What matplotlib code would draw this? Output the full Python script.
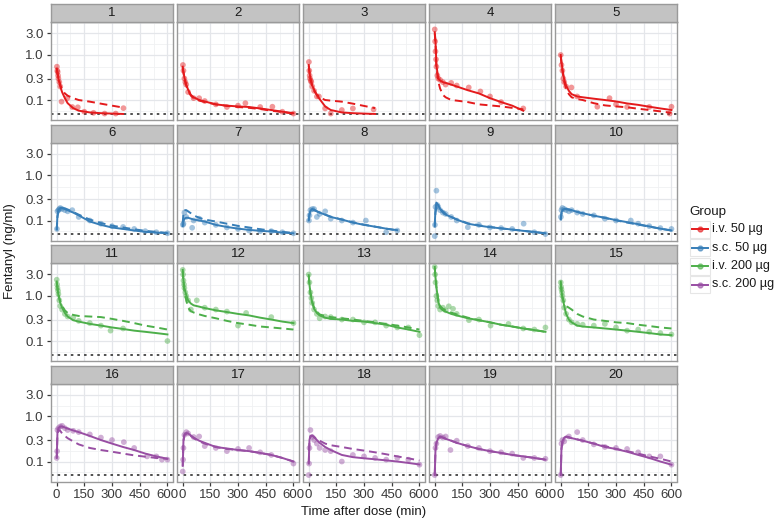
import matplotlib
matplotlib.use("Agg")
import matplotlib.pyplot as plt
from matplotlib.lines import Line2D
from matplotlib.patches import Rectangle

W, H = 777, 524
plt.rcParams["font.family"] = ["Liberation Sans", "DejaVu Sans"]

# ---------------- data ----------------
LINE_T = [1, 5, 10, 20, 30, 45, 60, 90, 120, 180, 240, 300, 360, 420, 480, 540, 600]
GROUPS = ["i.v. 50 µg", "s.c. 50 µg", "i.v. 200 µg", "s.c. 200 µg"]
GROUP_COLORS = ["#E41A1C", "#377EB8", "#4DAF4A", "#984EA3"]
LLOQ = 0.05
X_TICKS = [0, 150, 300, 450, 600]
Y_TICKS = [0.1, 0.3, 1.0, 3.0]
Y_TICK_LABELS = ["0.1", "0.3", "1.0", "3.0"]
SUBJECT_IDS = list(range(1, 21))

# subject 1  (i.v. 50)
s1_t = [2, 4, 6, 8, 10, 15, 20, 27, 58, 85, 115, 150, 200, 260, 320, 362]
s1_c = [0.55, 0.45, 0.42, 0.35, 0.3, 0.25, 0.2, 0.092, 0.11, 0.07, 0.069, 0.055, 0.052, 0.05, 0.05, 0.066]
s1_ipred = [0.5, 0.38, 0.3, 0.2, 0.15, 0.11, 0.085, 0.066, 0.058, 0.053, 0.051, 0.05, 0.049]
s1_pred = [0.5, 0.4, 0.32, 0.22, 0.17, 0.14, 0.125, 0.11, 0.1, 0.092, 0.083, 0.075, 0.068]
# subject 2
s2_t = [2, 5, 10, 15, 20, 30, 60, 90, 120, 180, 240, 300, 340, 420, 486, 540, 600]
s2_c = [0.6, 0.45, 0.3, 0.25, 0.22, 0.15, 0.11, 0.11, 0.095, 0.08, 0.07, 0.075, 0.085, 0.07, 0.071, 0.055, 0.05]
s2_ipred = [0.55, 0.42, 0.32, 0.22, 0.17, 0.13, 0.115, 0.1, 0.093, 0.08, 0.075, 0.072, 0.07, 0.065, 0.06, 0.055, 0.051]
s2_pred = [0.52, 0.4, 0.3, 0.21, 0.16, 0.125, 0.11, 0.097, 0.09, 0.08, 0.074, 0.07, 0.067, 0.063, 0.058, 0.054, 0.05]
# subject 3
s3_t = [2, 4, 6, 8, 12, 15, 20, 30, 45, 56, 90, 120, 180, 240, 352]
s3_c = [0.7, 0.45, 0.35, 0.3, 0.27, 0.25, 0.2, 0.16, 0.12, 0.12, 0.065, 0.05, 0.06, 0.065, 0.062]
s3_ipred = [0.6, 0.42, 0.3, 0.21, 0.17, 0.13, 0.105, 0.072, 0.06, 0.053, 0.051, 0.05, 0.049]
s3_pred = [0.58, 0.42, 0.3, 0.2, 0.16, 0.13, 0.115, 0.1, 0.097, 0.092, 0.083, 0.074, 0.066]
# subject 4
s4_t = [1, 3, 5, 8, 10, 15, 20, 30, 45, 60, 90, 120, 185, 248, 300, 360, 480]
s4_c = [3.7, 2.0, 1.2, 0.8, 0.55, 0.35, 0.3, 0.28, 0.25, 0.22, 0.24, 0.21, 0.19, 0.155, 0.12, 0.09, 0.065]
s4_ipred = [3.2, 2.1, 0.6, 0.3, 0.27, 0.25, 0.24, 0.22, 0.2, 0.165, 0.14, 0.11, 0.09, 0.075, 0.058]
s4_pred = [3.0, 1.9, 0.55, 0.26, 0.18, 0.13, 0.115, 0.1, 0.097, 0.09, 0.08, 0.076, 0.072, 0.067, 0.062]
# subject 5
s5_t = [1, 5, 10, 15, 20, 30, 59, 90, 199, 265, 300, 360, 480, 600, 590]
s5_c = [1.0, 0.6, 0.45, 0.3, 0.25, 0.2, 0.19, 0.12, 0.071, 0.11, 0.08, 0.07, 0.07, 0.071, 0.05]
s5_ipred = [1.0, 0.7, 0.5, 0.28, 0.21, 0.16, 0.135, 0.12, 0.115, 0.107, 0.1, 0.093, 0.084, 0.078, 0.071, 0.065, 0.06]
s5_pred = [0.95, 0.65, 0.45, 0.25, 0.18, 0.135, 0.115, 0.105, 0.1, 0.085, 0.076, 0.072, 0.069, 0.064, 0.06, 0.056, 0.052]
# subject 6  (s.c. 50)
s6_t = [2, 5, 10, 15, 20, 30, 45, 60, 85, 120, 180, 240, 300, 360, 420, 480, 540, 600]
s6_c = [0.065, 0.16, 0.17, 0.18, 0.19, 0.18, 0.17, 0.16, 0.17, 0.12, 0.1, 0.085, 0.075, 0.072, 0.065, 0.058, 0.055, 0.052]
s6_ipred = [0.065, 0.13, 0.17, 0.19, 0.19, 0.18, 0.17, 0.15, 0.13, 0.095, 0.08, 0.07, 0.065, 0.06, 0.056, 0.054, 0.052]
s6_pred = [0.06, 0.12, 0.16, 0.185, 0.19, 0.185, 0.175, 0.155, 0.135, 0.105, 0.088, 0.077, 0.07, 0.064, 0.059, 0.056, 0.053]
# subject 7
s7_t = [2, 5, 10, 20, 52, 60, 90, 120, 180, 240, 300, 360, 420, 480, 540, 600]
s7_c = [0.08, 0.085, 0.15, 0.12, 0.069, 0.1, 0.11, 0.09, 0.08, 0.07, 0.065, 0.06, 0.058, 0.058, 0.055, 0.052]
s7_ipred = [0.075, 0.095, 0.11, 0.115, 0.115, 0.11, 0.105, 0.1, 0.095, 0.08, 0.072, 0.066, 0.062, 0.059, 0.057, 0.054, 0.052]
s7_pred = [0.09, 0.15, 0.17, 0.17, 0.16, 0.145, 0.13, 0.115, 0.105, 0.095, 0.085, 0.076, 0.07, 0.064, 0.06, 0.056, 0.053]
# subject 8
s8_t = [2, 5, 10, 20, 30, 45, 60, 90, 120, 180, 240, 310, 420, 480]
s8_c = [0.1, 0.13, 0.17, 0.18, 0.18, 0.12, 0.14, 0.16, 0.11, 0.1, 0.09, 0.1, 0.055, 0.06]
s8_ipred = [0.1, 0.14, 0.165, 0.18, 0.175, 0.16, 0.15, 0.135, 0.12, 0.105, 0.09, 0.08, 0.073, 0.066, 0.061]
s8_pred = [0.1, 0.135, 0.16, 0.175, 0.17, 0.16, 0.15, 0.135, 0.122, 0.105, 0.091, 0.081, 0.073, 0.066, 0.06]
# subject 9
s9_t = [1, 2, 5, 10, 15, 20, 30, 45, 60, 90, 120, 180, 240, 300, 360, 420, 482, 540, 600]
s9_c = [0.045, 0.08, 0.2, 0.46, 0.22, 0.2, 0.17, 0.15, 0.14, 0.12, 0.1, 0.071, 0.08, 0.07, 0.068, 0.065, 0.085, 0.055, 0.05]
s9_ipred = [0.08, 0.18, 0.25, 0.22, 0.18, 0.15, 0.135, 0.12, 0.105, 0.085, 0.077, 0.071, 0.067, 0.063, 0.059, 0.056, 0.052]
s9_pred = [0.07, 0.15, 0.19, 0.2, 0.18, 0.16, 0.14, 0.12, 0.106, 0.087, 0.078, 0.072, 0.067, 0.063, 0.059, 0.055, 0.052]
# subject 10
s10_t = [2, 5, 10, 20, 30, 45, 60, 90, 120, 180, 240, 300, 380, 420, 480, 540, 600]
s10_c = [0.12, 0.17, 0.19, 0.18, 0.17, 0.16, 0.17, 0.15, 0.14, 0.13, 0.11, 0.1, 0.1, 0.085, 0.075, 0.068, 0.065]
s10_ipred = [0.11, 0.15, 0.17, 0.18, 0.18, 0.175, 0.17, 0.155, 0.145, 0.128, 0.115, 0.102, 0.092, 0.083, 0.074, 0.066, 0.06]
s10_pred = [0.1, 0.14, 0.165, 0.18, 0.18, 0.175, 0.168, 0.155, 0.145, 0.128, 0.114, 0.101, 0.09, 0.081, 0.073, 0.066, 0.06]
# subject 11  (i.v. 200)
s11_t = [1, 3, 5, 8, 10, 15, 20, 30, 45, 60, 90, 120, 180, 240, 292, 360, 600]
s11_c = [2.3, 1.8, 1.5, 1.3, 1.1, 0.8, 0.6, 0.5, 0.4, 0.35, 0.33, 0.28, 0.25, 0.22, 0.17, 0.19, 0.1]
s11_ipred = [2.1, 1.5, 1.05, 0.7, 0.55, 0.42, 0.35, 0.29, 0.27, 0.24, 0.22, 0.2, 0.185, 0.17, 0.16, 0.15, 0.14]
s11_pred = [2.0, 1.5, 1.1, 0.75, 0.6, 0.48, 0.42, 0.38, 0.36, 0.35, 0.34, 0.31, 0.28, 0.25, 0.22, 0.2, 0.18]
# subject 12
s12_t = [1, 3, 5, 8, 10, 15, 20, 30, 45, 77, 120, 180, 240, 300, 344, 480, 600]
s12_c = [3.8, 3.0, 2.2, 1.8, 1.5, 1.2, 1.0, 0.8, 0.5, 0.8, 0.55, 0.5, 0.45, 0.22, 0.42, 0.34, 0.25]
s12_ipred = [3.8, 2.2, 1.5, 1.05, 0.8, 0.68, 0.62, 0.58, 0.54, 0.48, 0.44, 0.4, 0.37, 0.33, 0.3, 0.27, 0.25]
s12_pred = [3.6, 2.0, 1.3, 0.8, 0.55, 0.46, 0.43, 0.39, 0.36, 0.32, 0.28, 0.25, 0.23, 0.21, 0.2, 0.19, 0.18]
# subject 13
s13_t = [1, 5, 10, 15, 20, 30, 45, 60, 90, 120, 180, 240, 300, 360, 420, 480, 540, 600]
s13_c = [3.0, 2.0, 1.2, 0.9, 0.7, 0.5, 0.4, 0.32, 0.35, 0.34, 0.3, 0.3, 0.26, 0.26, 0.22, 0.2, 0.2, 0.135]
s13_ipred = [2.9, 1.8, 1.15, 0.7, 0.52, 0.42, 0.37, 0.33, 0.31, 0.3, 0.28, 0.27, 0.25, 0.23, 0.2, 0.18, 0.16]
s13_pred = [2.8, 1.8, 1.2, 0.75, 0.55, 0.44, 0.39, 0.36, 0.34, 0.32, 0.3, 0.28, 0.26, 0.24, 0.22, 0.2, 0.18]
# subject 14
s14_t = [1, 3, 5, 10, 15, 20, 30, 45, 60, 77, 100, 120, 186, 240, 303, 400, 480, 540, 600]
s14_c = [4.4, 3.0, 2.0, 1.0, 0.8, 0.6, 0.5, 0.55, 0.48, 0.59, 0.52, 0.4, 0.29, 0.3, 0.22, 0.24, 0.19, 0.18, 0.2]
s14_ipred = [4.4, 2.6, 1.6, 0.75, 0.55, 0.48, 0.45, 0.4, 0.37, 0.32, 0.29, 0.26, 0.23, 0.21, 0.19, 0.175, 0.16]
s14_pred = [4.2, 2.6, 1.6, 0.8, 0.6, 0.52, 0.48, 0.43, 0.39, 0.33, 0.29, 0.26, 0.23, 0.21, 0.19, 0.175, 0.16]
# subject 15
s15_t = [1, 3, 5, 8, 10, 15, 20, 30, 45, 60, 90, 120, 180, 240, 300, 360, 420, 480, 540, 600]
s15_c = [2.0, 1.6, 1.4, 1.2, 1.0, 0.8, 0.55, 0.4, 0.3, 0.26, 0.24, 0.23, 0.22, 0.24, 0.2, 0.17, 0.18, 0.16, 0.15, 0.14]
s15_ipred = [2.1, 1.3, 0.95, 0.6, 0.4, 0.3, 0.26, 0.22, 0.21, 0.2, 0.19, 0.18, 0.17, 0.16, 0.15, 0.14, 0.135]
s15_pred = [2.0, 1.3, 0.95, 0.7, 0.6, 0.55, 0.5, 0.4, 0.35, 0.3, 0.28, 0.26, 0.25, 0.23, 0.215, 0.2, 0.19]
# subject 16  (s.c. 200)
s16_t = [1, 3, 5, 10, 20, 30, 45, 60, 90, 120, 180, 240, 300, 364, 420, 490, 540, 570, 600]
s16_c = [0.12, 0.17, 0.5, 0.55, 0.6, 0.62, 0.55, 0.5, 0.48, 0.45, 0.4, 0.34, 0.3, 0.27, 0.2, 0.13, 0.13, 0.11, 0.11]
s16_ipred = [0.12, 0.45, 0.55, 0.6, 0.6, 0.57, 0.54, 0.49, 0.45, 0.37, 0.3, 0.25, 0.21, 0.18, 0.15, 0.13, 0.115]
s16_pred = [0.12, 0.4, 0.5, 0.48, 0.42, 0.37, 0.33, 0.28, 0.24, 0.2, 0.18, 0.165, 0.15, 0.137, 0.128, 0.12, 0.115]
# subject 17
s17_t = [1, 3, 5, 10, 20, 30, 60, 90, 120, 180, 240, 300, 360, 420, 480, 600]
s17_c = [0.06, 0.11, 0.2, 0.39, 0.45, 0.42, 0.35, 0.36, 0.22, 0.2, 0.17, 0.19, 0.2, 0.16, 0.14, 0.09]
s17_ipred = [0.08, 0.3, 0.4, 0.43, 0.42, 0.38, 0.34, 0.29, 0.26, 0.21, 0.195, 0.18, 0.17, 0.155, 0.14, 0.12, 0.1]
s17_pred = [0.08, 0.28, 0.38, 0.42, 0.41, 0.37, 0.33, 0.28, 0.25, 0.21, 0.19, 0.18, 0.17, 0.155, 0.14, 0.12, 0.1]
# subject 18
s18_t = [1, 3, 5, 10, 20, 30, 45, 60, 90, 120, 180, 240, 300, 360, 420, 480, 540, 600]
s18_c = [0.05, 0.09, 0.2, 0.5, 0.35, 0.3, 0.25, 0.2, 0.18, 0.17, 0.1, 0.14, 0.13, 0.12, 0.11, 0.12, 0.11, 0.085]
s18_ipred = [0.09, 0.3, 0.37, 0.38, 0.35, 0.3, 0.26, 0.21, 0.18, 0.14, 0.125, 0.118, 0.112, 0.106, 0.1, 0.093, 0.086]
s18_pred = [0.09, 0.28, 0.35, 0.37, 0.35, 0.32, 0.29, 0.25, 0.23, 0.21, 0.19, 0.175, 0.16, 0.145, 0.13, 0.118, 0.105]
# subject 19
s19_t = [1, 5, 10, 20, 30, 45, 60, 86, 120, 180, 240, 300, 360, 420, 480, 540, 600]
s19_c = [0.05, 0.2, 0.25, 0.35, 0.37, 0.34, 0.36, 0.18, 0.29, 0.22, 0.2, 0.17, 0.16, 0.15, 0.12, 0.12, 0.115]
s19_ipred = [0.05, 0.18, 0.26, 0.33, 0.36, 0.34, 0.32, 0.29, 0.26, 0.22, 0.19, 0.17, 0.155, 0.14, 0.13, 0.12, 0.11]
s19_pred = [0.05, 0.17, 0.25, 0.32, 0.35, 0.34, 0.32, 0.29, 0.26, 0.22, 0.19, 0.17, 0.155, 0.14, 0.13, 0.12, 0.11]
# subject 20
s20_t = [1, 5, 10, 20, 45, 90, 120, 180, 240, 300, 360, 420, 480, 540, 600]
s20_c = [0.05, 0.25, 0.3, 0.28, 0.36, 0.45, 0.3, 0.24, 0.21, 0.2, 0.19, 0.16, 0.13, 0.13, 0.085]
s20_ipred = [0.05, 0.2, 0.28, 0.34, 0.36, 0.35, 0.33, 0.31, 0.29, 0.25, 0.21, 0.19, 0.165, 0.14, 0.12, 0.1, 0.085]
s20_pred = [0.05, 0.19, 0.27, 0.33, 0.35, 0.34, 0.33, 0.31, 0.29, 0.25, 0.22, 0.19, 0.17, 0.15, 0.13, 0.115, 0.1]

SUBJECTS = [
    (s1_t, s1_c, s1_ipred, s1_pred), (s2_t, s2_c, s2_ipred, s2_pred),
    (s3_t, s3_c, s3_ipred, s3_pred), (s4_t, s4_c, s4_ipred, s4_pred),
    (s5_t, s5_c, s5_ipred, s5_pred), (s6_t, s6_c, s6_ipred, s6_pred),
    (s7_t, s7_c, s7_ipred, s7_pred), (s8_t, s8_c, s8_ipred, s8_pred),
    (s9_t, s9_c, s9_ipred, s9_pred), (s10_t, s10_c, s10_ipred, s10_pred),
    (s11_t, s11_c, s11_ipred, s11_pred), (s12_t, s12_c, s12_ipred, s12_pred),
    (s13_t, s13_c, s13_ipred, s13_pred), (s14_t, s14_c, s14_ipred, s14_pred),
    (s15_t, s15_c, s15_ipred, s15_pred), (s16_t, s16_c, s16_ipred, s16_pred),
    (s17_t, s17_c, s17_ipred, s17_pred), (s18_t, s18_c, s18_ipred, s18_pred),
    (s19_t, s19_c, s19_ipred, s19_pred), (s20_t, s20_c, s20_ipred, s20_pred),
]

# ---------------- layout ----------------
fig = plt.figure(figsize=(W / 100, H / 100), dpi=100)
fig.patch.set_facecolor("white")


def fx(px):
    return px / W


def fy(py):
    return 1 - py / H


PANEL_W = 122
COL_X0 = 51
COL_STEP = 126
ROW_Y0 = 4
ROW_STEP = 120.5
STRIP_H = 18
PANEL_H = 98

TEXT_COL = "#3A3A3A"
GRID_MAJ = "#E4E6EA"
GRID_MIN = "#F0F1F3"
BORDER = "#9A9A9A"
STRIP_FILL = "#C3C3C3"

YMIN, YMAX = 0.036, 5.4
XMIN, XMAX = -30, 630
Y_MINOR = [0.0577, 0.173, 0.548, 1.73, 5.2]
X_MINOR = [75, 225, 375, 525]

for i, sid in enumerate(SUBJECT_IDS):
    r, c = divmod(i, 5)
    g = r
    color = GROUP_COLORS[g]
    left = COL_X0 + COL_STEP * c
    strip_top = ROW_Y0 + ROW_STEP * r
    ptop = strip_top + STRIP_H
    pbot = ptop + PANEL_H

    ax = fig.add_axes([fx(left), fy(pbot), PANEL_W / W, PANEL_H / H])
    ax.set_yscale("log")
    ax.set_xlim(XMIN, XMAX)
    ax.set_ylim(YMIN, YMAX)
    ax.set_facecolor("white")
    for yv in Y_MINOR:
        ax.axhline(yv, color=GRID_MIN, lw=0.6, zorder=0)
    for xv in X_MINOR:
        ax.axvline(xv, color=GRID_MIN, lw=0.6, zorder=0)
    for yv in Y_TICKS:
        ax.axhline(yv, color=GRID_MAJ, lw=0.9, zorder=0)
    for xv in X_TICKS:
        ax.axvline(xv, color=GRID_MAJ, lw=0.9, zorder=0)

    t_obs, c_obs, ipred, pred = SUBJECTS[i]
    ax.axhline(LLOQ, color="#505050", lw=1.4, linestyle=(0, (1.3, 2.1)), zorder=1)
    ax.scatter(t_obs, c_obs, s=17, color=color, alpha=0.45, edgecolors="none", zorder=2)
    ax.plot(LINE_T[:len(pred)], pred, color=color, lw=1.4, dashes=(4, 2.5), zorder=3)
    ax.plot(LINE_T[:len(ipred)], ipred, color=color, lw=1.4, zorder=4)

    ax.set_xticks(X_TICKS)
    ax.set_yticks(Y_TICKS)
    ax.minorticks_off()
    ax.tick_params(axis="both", which="both", length=3.2, width=0.9, color=TEXT_COL,
                   labelsize=9.5, labelcolor=TEXT_COL, pad=2)
    if c == 0:
        ax.set_yticklabels(Y_TICK_LABELS)
    else:
        ax.set_yticklabels([])
        ax.tick_params(axis="y", length=0)
    if r == 3:
        ax.set_xticklabels([str(v) for v in X_TICKS])
    else:
        ax.set_xticklabels([])
        ax.tick_params(axis="x", length=0)
    for sp in ax.spines.values():
        sp.set_color(BORDER)
        sp.set_linewidth(1.0)

    sax = fig.add_axes([fx(left), fy(ptop), PANEL_W / W, STRIP_H / H])
    sax.set_facecolor(STRIP_FILL)
    sax.set_xticks([])
    sax.set_yticks([])
    for sp in sax.spines.values():
        sp.set_color(BORDER)
        sp.set_linewidth(1.0)
    sax.text(0.5, 0.5, str(sid), ha="center", va="center", fontsize=9.5,
             color="#1A1A1A", transform=sax.transAxes)

# axis titles
fig.text(fx(364), fy(512), "Time after dose (min)", ha="center", va="center",
         fontsize=9.5, color="#1A1A1A")
fig.text(fx(10), fy(251), "Fentanyl (ng/ml)", ha="center", va="center",
         rotation=90, fontsize=9.5, color="#1A1A1A")

# legend
fig.text(fx(689), fy(212), "Group", ha="left", va="center", fontsize=9.6, color="#1A1A1A")
LEG_Y = [229, 247.5, 266, 284.5]
for g, (label, color) in enumerate(zip(GROUPS, GROUP_COLORS)):
    y = LEG_Y[g]
    fig.patches.append(Rectangle((fx(690), fy(y + 8.5)), 20 / W, 17 / H,
                                 transform=fig.transFigure, facecolor="white",
                                 edgecolor="#E6E6E6", lw=0.8))
    fig.add_artist(Line2D([fx(692), fx(708)], [fy(y), fy(y)], color=color, lw=1.4,
                          transform=fig.transFigure))
    fig.add_artist(Line2D([fx(700)], [fy(y)], color=color, marker="o", markersize=3.5,
                          alpha=0.6, lw=0, transform=fig.transFigure))
    fig.text(fx(712), fy(y), label, ha="left", va="center", fontsize=9.1, color="#1A1A1A")

fig.savefig("out.png", dpi=100)
